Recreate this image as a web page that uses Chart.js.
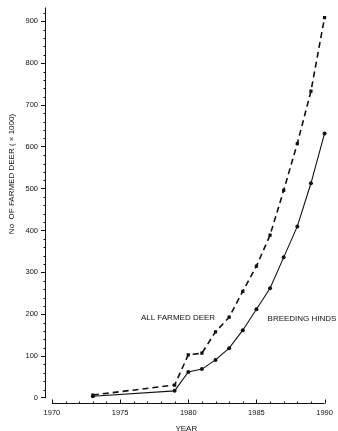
<!DOCTYPE html>
<html>
<head>
<meta charset="utf-8">
<script src="https://cdn.jsdelivr.net/npm/chart.js@4.4.1/dist/chart.umd.min.js"></script>
<style>
  html, body { margin: 0; padding: 0; background: #fff; }
  #wrap { width: 338px; height: 431px; }
</style>
</head>
<body>
<div id="wrap"><canvas id="deerChart" width="338" height="431"></canvas></div>
<script>
// data (thousands of deer)
const years = [1973, 1979, 1980, 1981, 1982, 1983, 1984, 1985, 1986, 1987, 1988, 1989, 1990];
const allFarmedDeer = [7, 31, 103, 107, 158, 193, 255, 315, 389, 496, 608, 733, 909];
const breedingHinds = [4, 17, 62, 69, 91, 119, 162, 212, 262, 336, 410, 513, 632];
const xTickYears = [1970, 1975, 1980, 1985, 1990];
const yTickValues = [0, 100, 200, 300, 400, 500, 600, 700, 800, 900];

const ink = "#111";
const fontFamily = "'Liberation Sans', Arial, sans-serif";

// separate axis lines, minor ticks and the free text labels
const axesPlugin = {
  id: "axesPlugin",
  afterDraw(chart) {
    const ctx = chart.ctx;
    const xs = chart.scales.x;
    const ys = chart.scales.y;
    const area = chart.chartArea;
    ctx.save();
    ctx.strokeStyle = ink;
    ctx.lineWidth = 1;

    // y axis line
    const yx = Math.round(area.left) + 0.5;
    ctx.beginPath();
    ctx.moveTo(yx, area.top);
    ctx.lineTo(yx, ys.getPixelForValue(0));
    ctx.stroke();
    // minor y ticks
    for (let v = 20; v <= 920; v += 20) {
      if (v % 100 === 0) continue;
      const py = Math.round(ys.getPixelForValue(v)) + 0.5;
      ctx.beginPath();
      ctx.moveTo(yx - 2, py);
      ctx.lineTo(yx, py);
      ctx.stroke();
    }

    // x axis line, detached from the y axis
    const xy = Math.round(area.bottom) + 0.5;
    ctx.beginPath();
    ctx.moveTo(xs.getPixelForValue(xTickYears[0]), xy);
    ctx.lineTo(xs.getPixelForValue(xTickYears[xTickYears.length - 1]), xy);
    ctx.stroke();
    // x ticks pointing up, one per year
    for (let yr = xTickYears[0]; yr <= xTickYears[xTickYears.length - 1]; yr++) {
      const px = Math.round(xs.getPixelForValue(yr)) + 0.5;
      const len = yr % 5 === 0 ? 4 : 2;
      ctx.beginPath();
      ctx.moveTo(px, xy);
      ctx.lineTo(px, xy - len);
      ctx.stroke();
    }

    // y axis title
    ctx.fillStyle = ink;
    ctx.font = "8px " + fontFamily;
    ctx.textAlign = "center";
    ctx.textBaseline = "middle";
    ctx.save();
    ctx.translate(12, 174);
    ctx.rotate(-Math.PI / 2);
    ctx.fillText("No  OF FARMED DEER ( \u00d7 1000)", 0, 0);
    ctx.restore();

    // series labels
    ctx.font = "8px " + fontFamily;
    ctx.fillText("ALL FARMED DEER", 178, 318);
    ctx.fillText("BREEDING HINDS", 302, 319);
    ctx.restore();
  }
};

const ctx = document.getElementById("deerChart");
new Chart(ctx, {
  type: "line",
  data: {
    datasets: [
      {
        label: "All farmed deer",
        data: years.map((yr, i) => ({ x: yr, y: allFarmedDeer[i] })),
        borderColor: ink,
        backgroundColor: ink,
        borderWidth: 1.6,
        borderDash: [6, 4],
        pointStyle: "rect",
        pointRadius: 2.3,
        pointBorderWidth: 0,
        tension: 0
      },
      {
        label: "Breeding hinds",
        data: years.map((yr, i) => ({ x: yr, y: breedingHinds[i] })),
        borderColor: ink,
        backgroundColor: ink,
        borderWidth: 1.1,
        pointStyle: "circle",
        pointRadius: 2,
        pointBorderWidth: 0,
        tension: 0
      }
    ]
  },
  options: {
    responsive: false,
    animation: false,
    devicePixelRatio: 1,
    layout: { padding: { top: 7, right: 8, left: 0, bottom: 0 } },
    plugins: {
      legend: { display: false },
      tooltip: { enabled: false }
    },
    scales: {
      x: {
        type: "linear",
        min: 1969.49,
        max: 1990.22,
        afterBuildTicks(axis) {
          axis.ticks = xTickYears.map(v => ({ value: v }));
        },
        afterFit(axis) { axis.height = 28; },
        grid: { display: false, drawTicks: false, tickLength: 0 },
        border: { display: false },
        ticks: {
          color: ink,
          padding: 5,
          maxRotation: 0,
          autoSkip: false,
          font: { family: fontFamily, size: 7.5 },
          callback: v => String(v)
        },
        title: {
          display: true,
          text: "YEAR",
          color: ink,
          font: { family: fontFamily, size: 8 },
          padding: { top: 0, bottom: -3 }
        }
      },
      y: {
        min: -12,
        max: 933,
        afterBuildTicks(axis) {
          axis.ticks = yTickValues.map(v => ({ value: v }));
        },
        afterFit(axis) { axis.width = 45; },
        grid: {
          display: true,
          drawOnChartArea: false,
          drawTicks: true,
          tickLength: 4,
          color: ink
        },
        border: { display: false },
        ticks: {
          color: ink,
          padding: 3,
          autoSkip: false,
          font: { family: fontFamily, size: 7.5 }
        }
      }
    }
  },
  plugins: [axesPlugin]
});
</script>
</body>
</html>
